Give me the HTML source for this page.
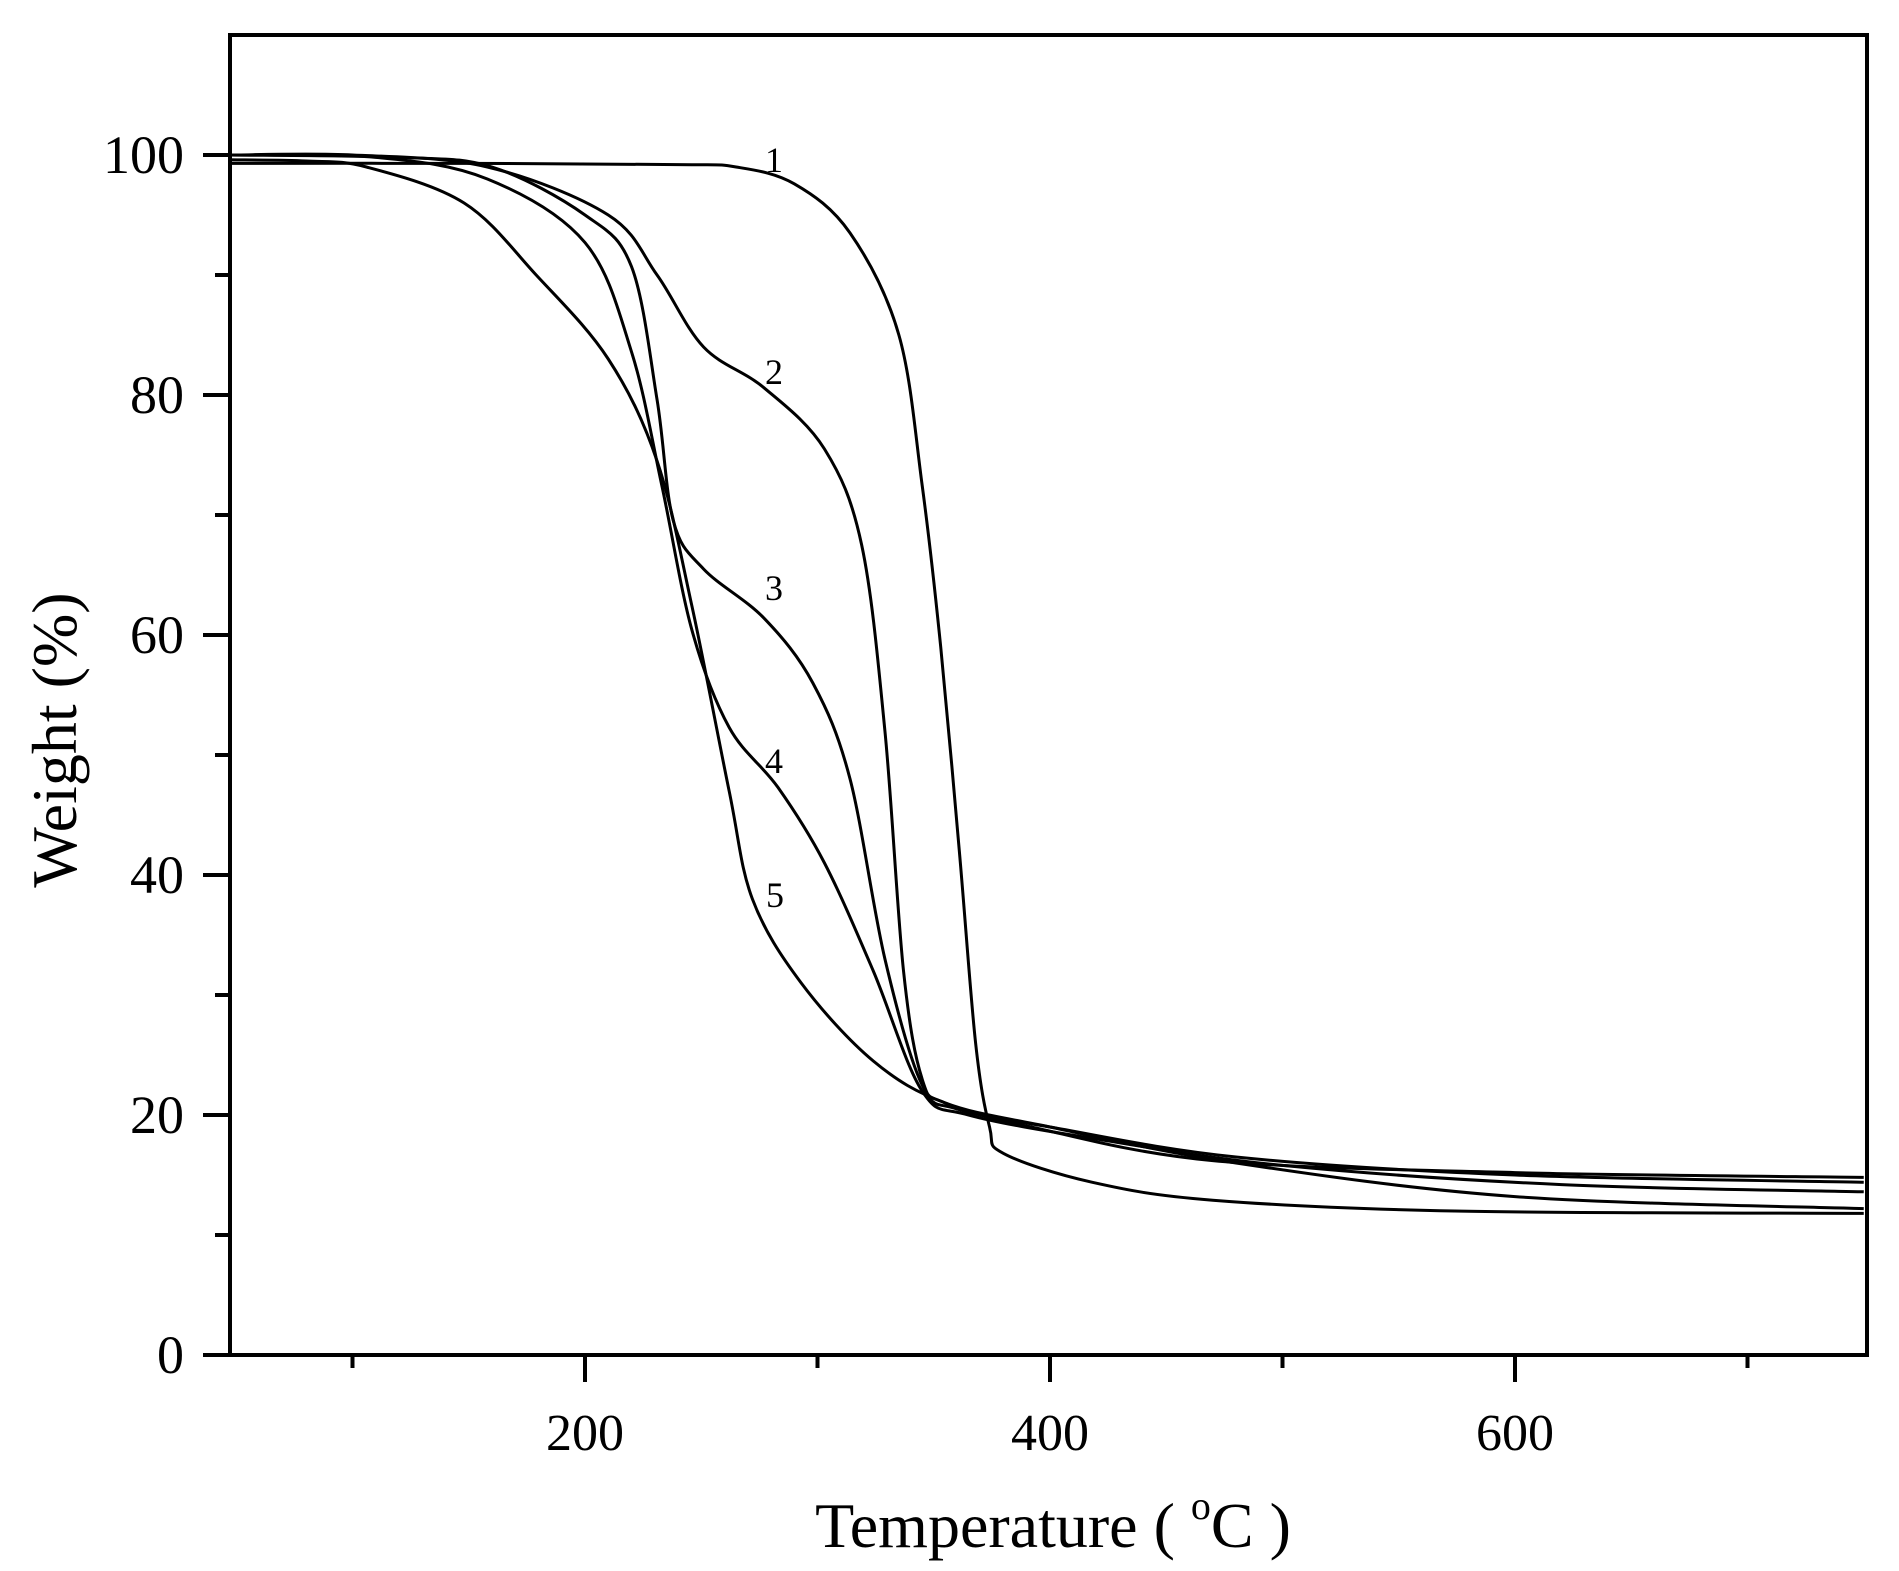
<!DOCTYPE html><html><head><style>body{margin:0;background:#fff}svg{display:block}</style></head><body>
<svg id="s" width="1899" height="1571" xmlns="http://www.w3.org/2000/svg" font-family="Liberation Serif, serif">
<rect width="1899" height="1571" fill="#fff"/>
<g id="ax" stroke="#000" stroke-width="4" fill="none"></g>
<g id="cv" stroke="#000" stroke-width="3" fill="none"></g>
<g font-size="54" fill="#000" text-anchor="end">
<text x="184" y="173">100</text><text x="184" y="413">80</text><text x="184" y="653">60</text><text x="184" y="893">40</text><text x="184" y="1133">20</text><text x="184" y="1373">0</text>
</g>
<g font-size="52" fill="#000" text-anchor="middle">
<text x="585" y="1450">200</text><text x="1050" y="1450">400</text><text x="1515" y="1450">600</text>
</g>
<text x="1053" y="1547" font-size="64" text-anchor="middle">Temperature ( <tspan font-size="40" dy="-28">o</tspan><tspan dy="28">C )</tspan></text>
<text transform="translate(76,740) rotate(-90)" font-size="64" text-anchor="middle">Weight (%)</text>
<g font-size="36" text-anchor="middle">
<text x="774" y="172">1</text><text x="774" y="384">2</text><text x="774" y="600">3</text><text x="774" y="773">4</text><text x="775" y="907">5</text>
</g>
</svg>
<script>
const X=t=>585+(t-200)*2.325, Y=w=>1355-w*12;
const ax=document.getElementById('ax');let h='';
h+=`<path d="M230 35H1867V1355H230Z"/>`;
for(let w=0;w<=100;w+=10){const big=w%20==0;h+=`<line x1="${big?203:215}" x2="230" y1="${Y(w)}" y2="${Y(w)}"/>`;}
for(let t=100;t<=700;t+=100){const big=t%200==0;h+=`<line x1="${X(t)}" x2="${X(t)}" y1="1355" y2="${big?1382:1368}"/>`;}
ax.innerHTML=h;
const C=[
[[47,99.3],[150,99.3],[240,99.2],[265,99.0],[290,97.6],[314,93.5],[335,85],[345,72.5],[353,59],[361,42],[368,26],[374,19],[380,16.8],[418,14.4],[470,12.9],[574,12],[750,11.8]],
[[47,100],[100,100],[158,99],[210,95],[231,90],[251,84],[277,80.6],[303,75.5],[319,67.5],[329,52],[337,32],[345,23],[355,21],[392,19],[470,16.2],[600,15.2],[750,14.8]],
[[47,100],[120,99.8],[160,99],[200,95],[220,90.7],[231,79.6],[238,69.5],[251,65.5],[277,61.4],[298,56],[314,48],[329,33],[345,22.5],[360,20.5],[400,19],[480,16.5],[600,15],[750,14.4]],
[[47,100],[110,99.8],[158,98],[200,92.7],[220,83.6],[233,72.5],[246,60.4],[262,52.3],[283,47.3],[303,41],[324,32],[345,22],[365,20],[420,18],[500,15.8],[620,14.2],[750,13.6]],
[[47,99.6],[80,99.5],[106,99],[148,96],[179,90],[210,83],[231,74.5],[246,62.4],[262,47],[272,38],[293,31],[324,24.5],[355,21],[400,19],[480,16],[600,13.2],[750,12.2]]];
let p='';
for(const c of C){const pts=c.map(([t,w])=>[X(t),Y(w)]);let d=`M${pts[0][0]} ${pts[0][1]}`;
for(let i=0;i<pts.length-1;i++){const p0=pts[Math.max(i-1,0)],p1=pts[i],p2=pts[i+1],p3=pts[Math.min(i+2,pts.length-1)];
d+=` C${p1[0]+(p2[0]-p0[0])/6} ${p1[1]+(p2[1]-p0[1])/6} ${p2[0]-(p3[0]-p1[0])/6} ${p2[1]-(p3[1]-p1[1])/6} ${p2[0]} ${p2[1]}`;}
p+=`<path d="${d}"/>`;}
document.getElementById('cv').innerHTML=p;
</script>
</body></html>
